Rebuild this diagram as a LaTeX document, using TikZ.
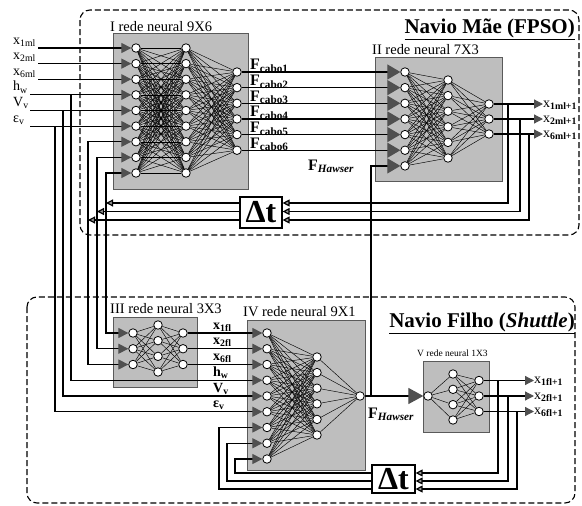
\documentclass[tikz,border=0pt]{standalone}
\usepackage{fontspec}
\setmainfont{Liberation Serif}
\usetikzlibrary{arrows.meta, positioning, calc}
\definecolor{NetGray}{RGB}{190,190,190}
\definecolor{TipGray}{RGB}{80,80,80}
\definecolor{EdgeGray}{RGB}{90,90,90}

\begin{document}
\begin{tikzpicture}[x=1pt, y=-1pt,
	neuron/.style={circle, draw, fill=white, line width=0.8pt, inner sep=0pt, minimum size=8.5pt},
	netbox/.style={draw=EdgeGray, fill=NetGray, line width=0.8pt},
	link/.style={line width=0.45pt},
	wire/.style={line width=1.2pt},
	intip/.style={-{Triangle[length=10pt, width=10pt, color=TipGray]}},
	bigtip/.style={-{Triangle[length=13pt, width=15pt, color=TipGray]}},
	outtip/.style={-{Triangle[length=9pt, width=9pt, color=TipGray]}},
	fbtip/.style={-{Triangle[length=7pt, width=7pt, fill=black!40]}},
	region/.style={dash pattern=on 6pt off 3pt, line width=1.1pt, rounded corners=10pt},
	shiptitle/.style={anchor=base east, inner sep=0pt, font=\fontsize{21}{24}\selectfont\bfseries},
	nettitle/.style={anchor=base west, inner sep=0pt, font=\fontsize{14.5}{16}\selectfont},
	lbl/.style={anchor=base west, inner sep=0pt, font=\fontsize{14}{16}\selectfont},
	force/.style={anchor=base west, inner sep=0pt, font=\fontsize{16}{18}\selectfont\bfseries},
	delay/.style={draw, fill=white, line width=1.2pt, inner sep=0pt, font=\fontsize{32}{34}\selectfont\bfseries}]

	\useasboundingbox (0,0) rectangle (582,506);

	% ship regions
	\draw[region] (80,10) rectangle (579,235);
	\draw[region] (27,297) rectangle (575,503);
	\node[shiptitle] (mae) at (575,33) {\underline{Navio Mãe (FPSO)}};
	\node[shiptitle] (filho) at (575,327) {\underline{Navio Filho (\textit{Shuttle})}};

	% network boxes
	\draw[netbox] (113,33) rectangle (248,189);
	\draw[netbox] (375,57) rectangle (502,181);
	\draw[netbox] (113,317) rectangle (197,387);
	\draw[netbox] (247,320) rectangle (365,470);
	\draw[netbox] (423,361) rectangle (489,432);
	\node[nettitle] (tnI) at (110,31) {I rede neural 9X6};
	\node[nettitle] (tnII) at (372,54) {II rede neural 7X3};
	\node[nettitle] (tnIII) at (110,313) {III rede neural 3X3};
	\node[nettitle] (tnIV) at (243,316) {IV rede neural 9X1};
	\node[nettitle, font=\fontsize{9.5}{11}\selectfont] (tnV) at (417,356) {V rede neural 1X3};

	% delays
	\node[delay, minimum width=42pt, minimum height=31pt] (dt1) at (261,212.5) {Δt};
	\node[delay, minimum width=43pt, minimum height=28pt] (dt2) at (393.5,479) {Δt};

	% network I
	\foreach \i in {1,...,9} {
		\node[neuron] (Ia\i) at (136,{48+15.625*(\i-1)}) {};
		\node[neuron] (Ib\i) at (186,{48+15.625*(\i-1)}) {};
	}
	\foreach \j in {1,...,6}
		\node[neuron] (Ic\j) at (237,{72+15.65*(\j-1)}) {};
	\foreach \i in {1,...,9} {
		\foreach \j in {1,...,9} \draw[link] (Ia\i) -- (Ib\j);
		\foreach \j in {1,...,6} \draw[link] (Ib\i) -- (Ic\j);
	}

	% network II
	\foreach \i in {1,...,7}
		\node[neuron] (IIa\i) at (405,{72+15.65*(\i-1)}) {};
	\foreach \j in {1,...,6}
		\node[neuron] (IIb\j) at (448,{80+15.6*(\j-1)}) {};
	\foreach \k in {1,2,3}
		\node[neuron] (IIc\k) at (489,{104+15*(\k-1)}) {};
	\foreach \j in {1,...,6} {
		\foreach \i in {1,...,7} \draw[link] (IIa\i) -- (IIb\j);
		\foreach \k in {1,2,3} \draw[link] (IIb\j) -- (IIc\k);
	}

	% network III
	\foreach \k in {1,2,3} {
		\node[neuron] (IIIa\k) at (133,{333+15.75*(\k-1)}) {};
		\node[neuron] (IIIc\k) at (183,{333+15.75*(\k-1)}) {};
	}
	\foreach \j in {1,...,4}
		\node[neuron] (IIIb\j) at (158,{325+15.67*(\j-1)}) {};
	\foreach \j in {1,...,4}
		\foreach \k in {1,2,3} {
			\draw[link] (IIIa\k) -- (IIIb\j);
			\draw[link] (IIIb\j) -- (IIIc\k);
		}

	% network IV
	\foreach \i in {1,...,9}
		\node[neuron] (IVa\i) at (267,{333+15.75*(\i-1)}) {};
	\foreach \j in {1,...,6}
		\node[neuron] (IVb\j) at (317,{357+15.6*(\j-1)}) {};
	\node[neuron] (IVc) at (360,396) {};
	\foreach \j in {1,...,6} {
		\foreach \i in {1,...,9} \draw[link] (IVa\i) -- (IVb\j);
		\draw[link] (IVb\j) -- (IVc);
	}

	% network V
	\node[neuron] (Va) at (428,396) {};
	\foreach \j in {1,...,4}
		\node[neuron] (Vb\j) at (453,{374+15.33*(\j-1)}) {};
	\foreach \k in {1,2,3}
		\node[neuron] (Vc\k) at (479,{380.5+15.5*(\k-1)}) {};
	\foreach \j in {1,...,4} {
		\draw[link] (Va) -- (Vb\j);
		\foreach \k in {1,2,3} \draw[link] (Vb\j) -- (Vc\k);
	}

	% inputs of the FPSO network
	\foreach \i/\xs/\txt in {1/38/{x\textsubscript{1ml}}, 2/38/{x\textsubscript{2ml}},
		3/38/{x\textsubscript{6ml}}, 4/30/{h\textsubscript{w}}, 5/30/{V\textsubscript{v}},
		6/30/{ε\textsubscript{v}}} {
		\coordinate (sI\i) at (\xs,{48+15.625*(\i-1)});
		\node[lbl] (tI\i) at (13,{44+15.625*(\i-1)}) {\txt};
		\draw[wire, intip] (sI\i) -- (Ia\i);
	}
	\coordinate (jh) at (71,{48+15.625*3});
	\coordinate (jv) at (63,{48+15.625*4});
	\coordinate (je) at (55,{48+15.625*5});
	\draw[wire, intip] (jh) |- (IVa4);
	\draw[wire, intip] (jv) |- (IVa5);
	\draw[wire, intip] (je) |- (IVa6);

	% cable forces
	\foreach \j in {1,...,6} {
		\draw[wire, bigtip] (Ic\j) -- (IIa\j);
		\node[force] (fc\j) at (250,{70+15.65*(\j-1)}) {F\textsubscript{cabo\j}};
	}

	% hawser force
	\coordinate (jw) at (371,396);
	\draw[wire, -{Triangle[length=15pt, width=16pt, color=TipGray]}] (IVc) -- (Va);
	\draw[wire, bigtip] (jw) |- (IIa7);
	\node[force] (fh1) at (308,170) {F\textsubscript{\textit{Hawser}}};
	\node[force] (fh2) at (368,418) {F\textsubscript{\textit{Hawser}}};

	% FPSO outputs and feedback
	\coordinate (dA) at (106,203);
	\coordinate (dB) at (97,211.5);
	\coordinate (dC) at (88,220);
	\foreach \k/\txt in {1/1ml+1, 2/2ml+1, 3/6ml+1} {
		\node[lbl] (xm\k) at (543,{107+15*(\k-1)}) {x\textsubscript{\bfseries\txt}};
		\draw[wire, outtip] (IIc\k) -- (IIc\k -| xm\k.west);
	}
	\coordinate (gA) at (508,104);
	\coordinate (gB) at (520,119);
	\coordinate (gC) at (529,134);
	\draw[wire, fbtip] (gA) |- (dt1.east |- dA);
	\draw[wire, fbtip] (gB) |- (dt1.east |- dB);
	\draw[wire, fbtip] (gC) |- (dt1.east |- dC);
	\draw[wire, fbtip] (dt1.west |- dA) -- (dA);
	\draw[wire, fbtip] (dt1.west |- dB) -- (dB);
	\draw[wire, fbtip] (dt1.west |- dC) -- (dC);
	\draw[wire, intip] (dA) |- (Ia9);
	\draw[wire, intip] (dB) |- (Ia8);
	\draw[wire, intip] (dC) |- (Ia7);
	\draw[wire, intip] (dA) |- (IIIa1);
	\draw[wire, intip] (dB) |- (IIIa2);
	\draw[wire, intip] (dC) |- (IIIa3);

	% shuttle inputs
	\foreach \k in {1,2,3}
		\draw[wire, intip] (IIIc\k) -- (IVa\k);
	\foreach \k/\txt in {1/{x\textsubscript{1fl}}, 2/{x\textsubscript{2fl}}, 3/{x\textsubscript{6fl}},
		4/{h\textsubscript{w}}, 5/{V\textsubscript{v}}, 6/{ε\textsubscript{v}}}
		\node[lbl, font=\fontsize{14}{16}\selectfont\bfseries] (tIV\k) at (213,{329+15.75*(\k-1)}) {\txt};

	% shuttle outputs and feedback
	\foreach \k/\txt in {1/1fl+1, 2/2fl+1, 3/6fl+1} {
		\node[lbl] (xf\k) at (534,{383.5+15.5*(\k-1)}) {x\textsubscript{\bfseries\txt}};
		\draw[wire, outtip] (Vc\k) -- (Vc\k -| xf\k.west);
	}
	\coordinate (kA) at (498,380.5);
	\coordinate (kB) at (508,396);
	\coordinate (kC) at (517,411.5);
	\coordinate (lA) at (235,473);
	\coordinate (lB) at (227,481);
	\coordinate (lC) at (219,489);
	\draw[wire, fbtip] (kA) |- (dt2.east |- lA);
	\draw[wire, fbtip] (kB) |- (dt2.east |- lB);
	\draw[wire, fbtip] (kC) |- (dt2.east |- lC);
	\draw[wire, intip] (dt2.west |- lA) -- (lA) |- (IVa9);
	\draw[wire, intip] (dt2.west |- lB) -- (lB) |- (IVa8);
	\draw[wire, intip] (dt2.west |- lC) -- (lC) |- (IVa7);
\end{tikzpicture}
\end{document}
